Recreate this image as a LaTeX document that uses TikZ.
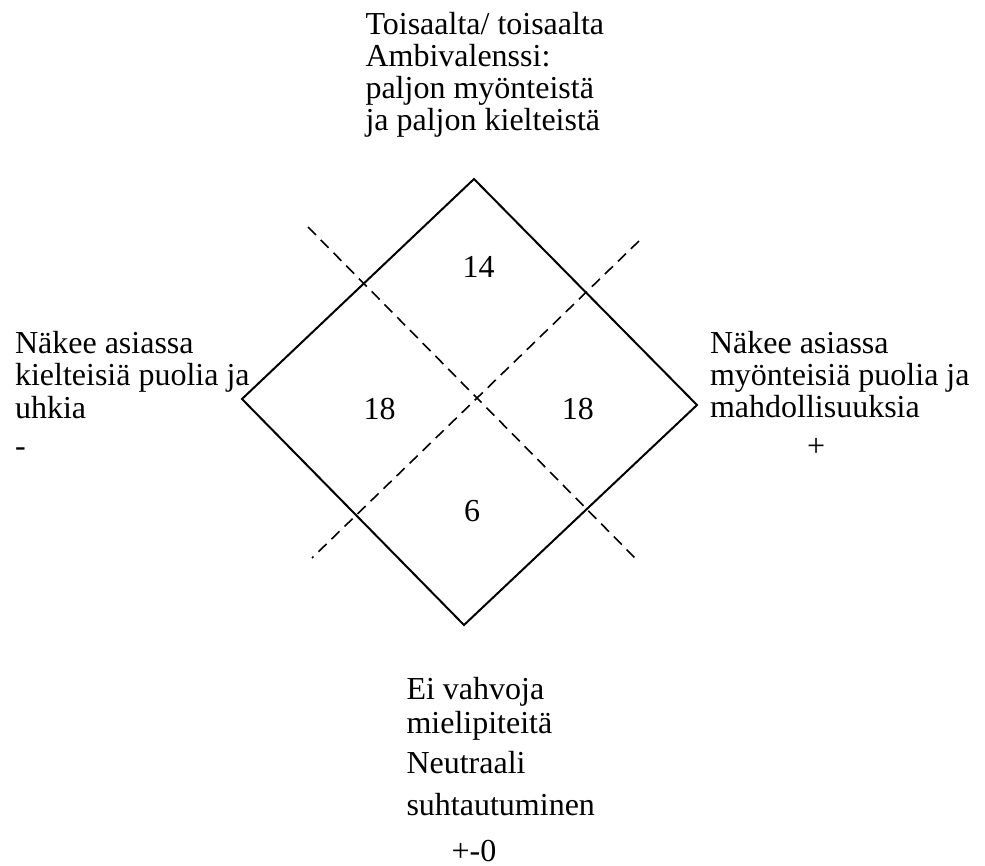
\documentclass[tikz,border=0pt]{standalone}
\usepackage{fontspec}
\setmainfont{Liberation Serif}

\begin{document}
\begin{tikzpicture}[
  x=0.375pt, y=-0.375pt,
  side/.style={line width=0.75pt, line join=miter},
  split/.style={line width=0.6pt, dash pattern=on 4.2pt off 2.6pt},
  txt/.style={anchor=base west, inner sep=0pt, align=left, font=\fontsize{12}{12}\selectfont},
  num/.style={anchor=base, inner sep=0pt, font=\fontsize{12}{12}\selectfont}
]
\useasboundingbox (0,0) rectangle (985,866);

\coordinate (top) at (474,179);
\coordinate (right) at (697,405);
\coordinate (bottom) at (464,625);
\coordinate (left) at (242,399);
\draw [side] (top) -- (right) -- (bottom) -- (left) -- cycle;

\coordinate (nw) at (308,227);
\coordinate (se) at (637,560);
\coordinate (ne) at (639,241);
\coordinate (sw) at (312,558);
\draw [split] (nw) -- (se);
\draw [split] (ne) -- (sw);

\node (q14) [num] at (478.5,277) {14};
\node (qneg) [num] at (379.7,419) {18};
\node (qpos) [num] at (577.8,419) {18};
\node (q6) [num] at (472.2,521) {6};

% anchor = baseline of the last line
\node (ambi) [txt] at (365,130) {Toisaalta/ toisaalta\\ Ambivalenssi:\\ paljon myönteistä\\ ja paljon kielteistä};
\node (neg) [txt] at (14.5,456) {Näkee asiassa\\ kielteisiä puolia ja\\[0.4pt] uhkia\\[1.9pt] -};
\node (pos) [txt] at (709.5,456) {Näkee asiassa\\ myönteisiä puolia ja\\ mahdollisuuksia\\[2.6pt] \hspace*{36.4pt}+};
\node (neutral) [txt] at (406,861) {Ei vahvoja\\[1.1pt] mielipiteitä\\[3pt] Neutraali\\[3.75pt] suhtautuminen\\[4.9pt] \hspace*{16.9pt}+-0};

\end{tikzpicture}
\end{document}
